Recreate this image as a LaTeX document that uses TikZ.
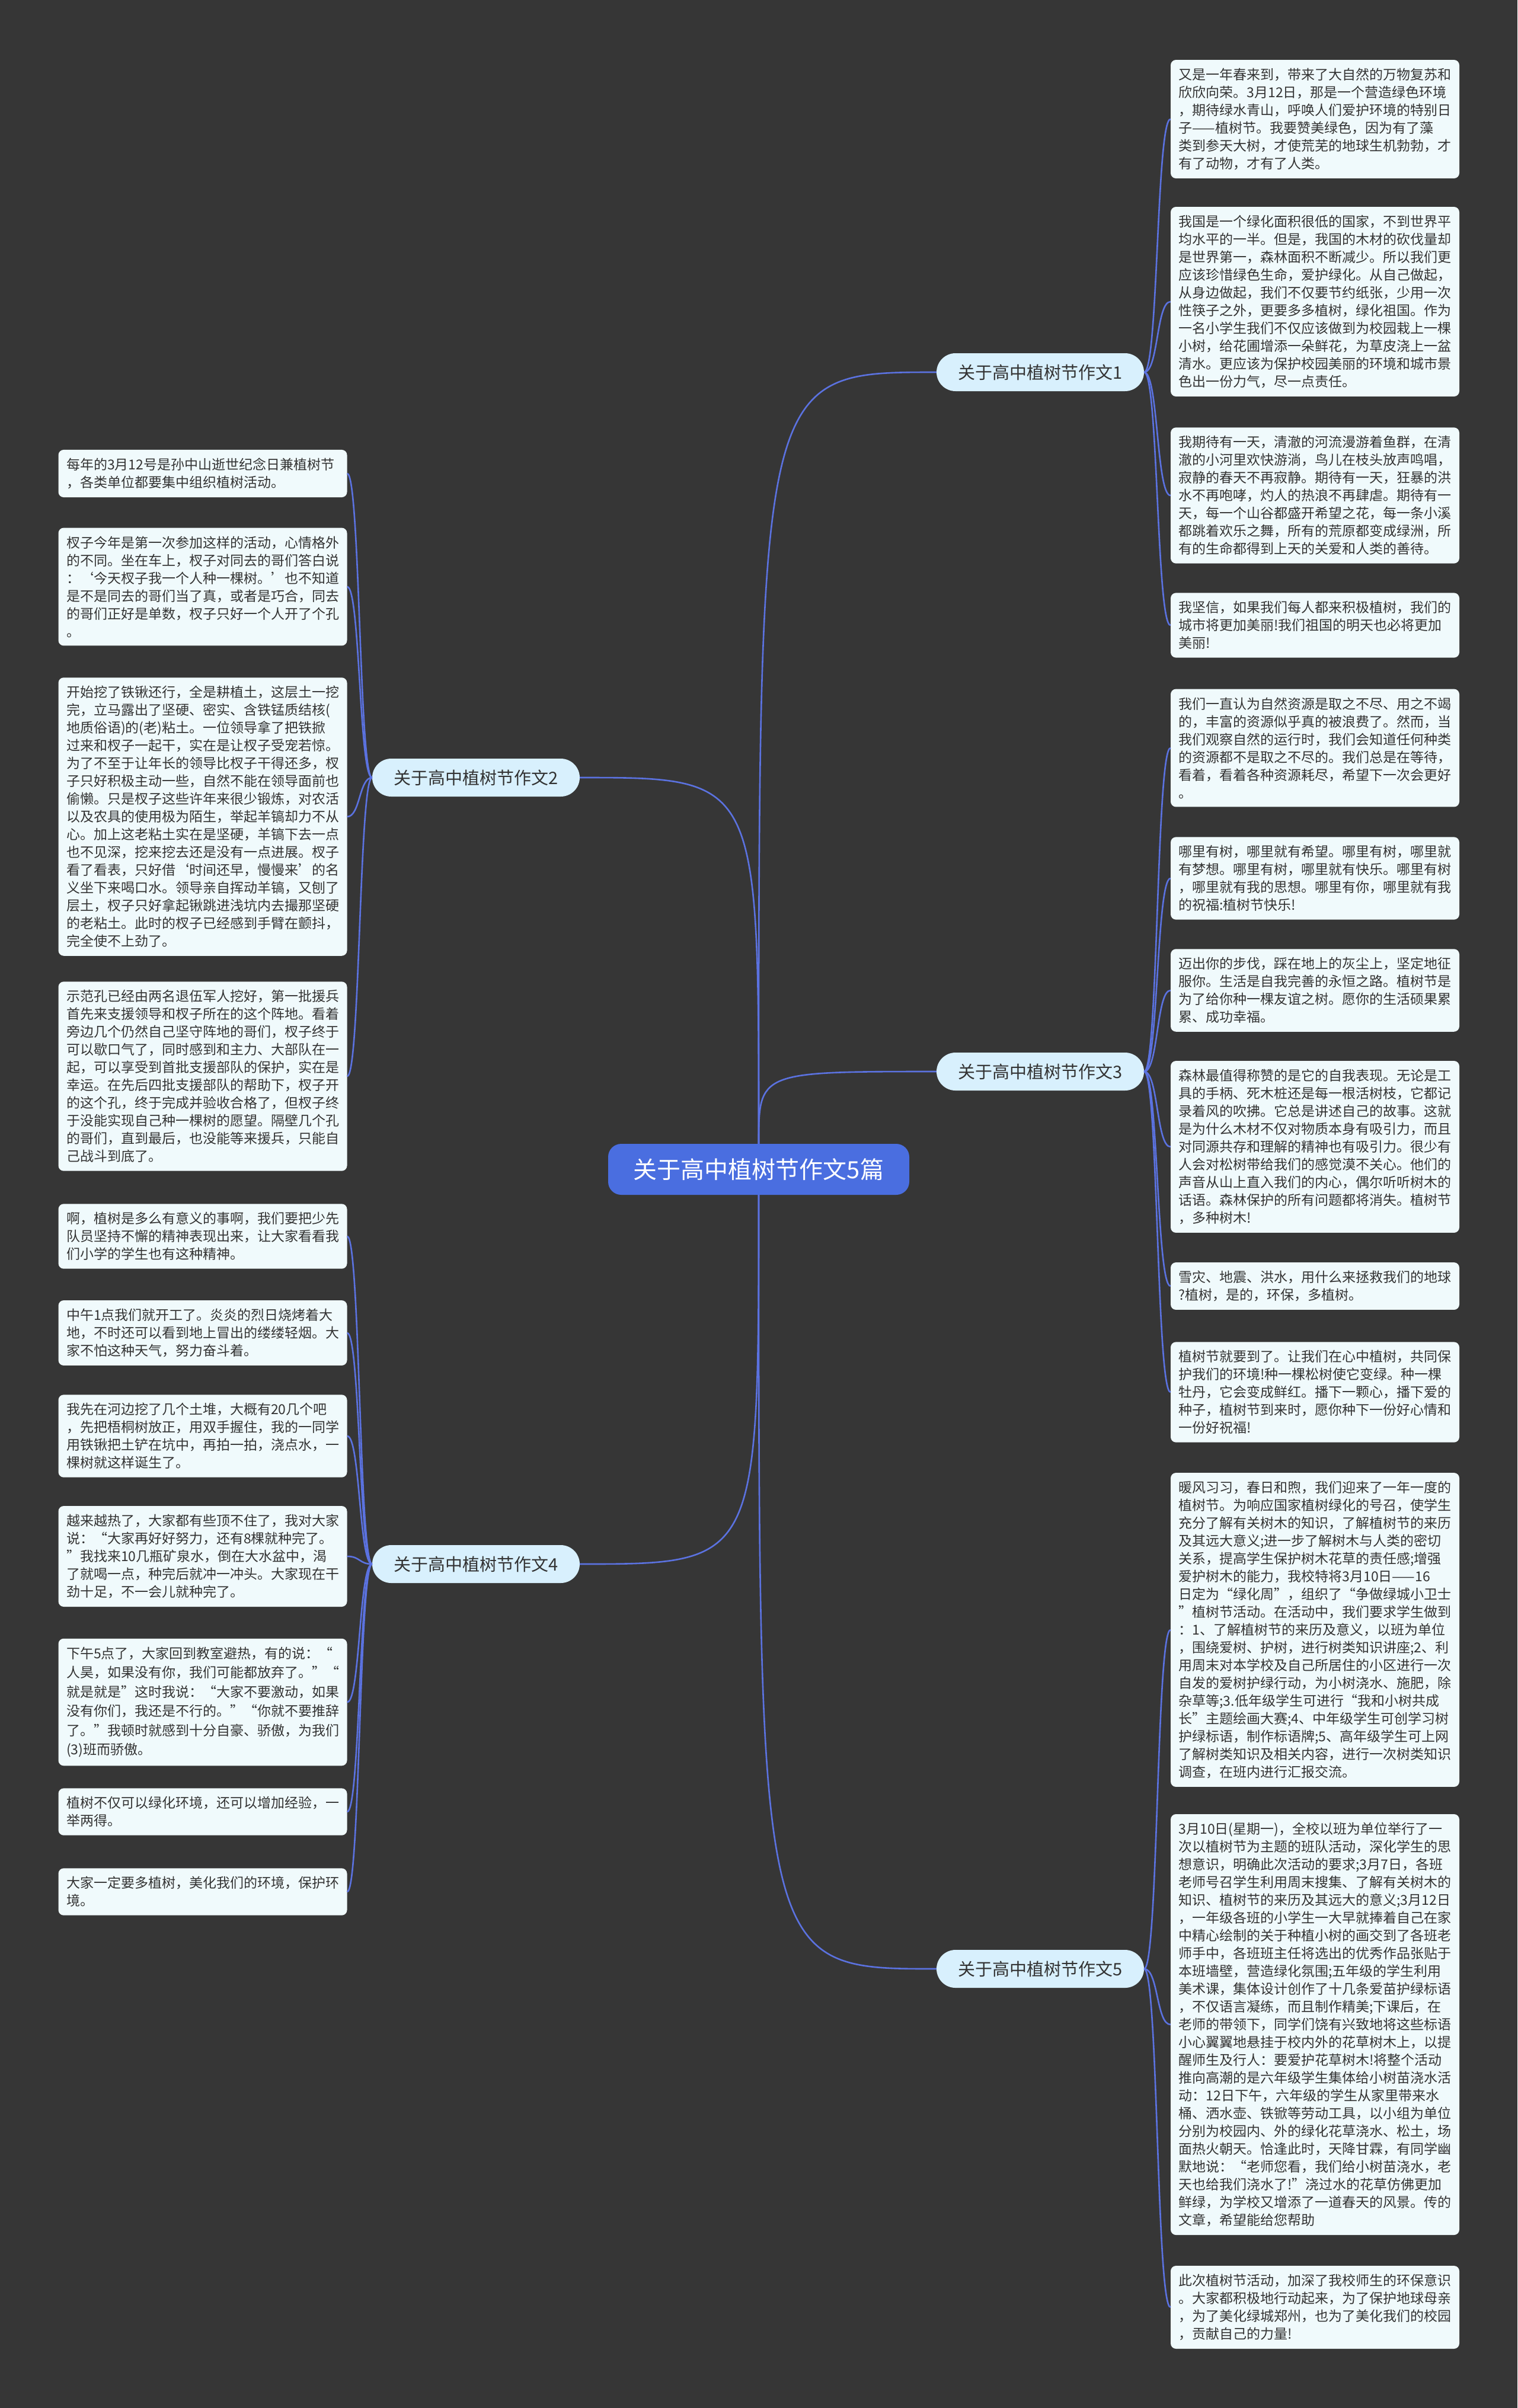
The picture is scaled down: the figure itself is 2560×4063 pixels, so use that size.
\documentclass[tikz,border=0pt]{standalone}
\usepackage{fontspec}
\setmainfont{Noto Sans CJK SC}
\definecolor{bg}{HTML}{363636}
\definecolor{leaffill}{HTML}{F0FAFC}
\definecolor{brfill}{HTML}{D8F0FD}
\definecolor{rootblue}{HTML}{4A6EE0}
\definecolor{link}{HTML}{5B72E0}
\definecolor{txt}{HTML}{333333}
\begin{document}
\begin{tikzpicture}[x=1pt,y=-1pt,
  leaf/.style={fill=leaffill, rounded corners=9pt, text width=460pt, inner xsep=13.5pt, inner ysep=14pt, align=left, text=txt, font=\fontsize{23}{30}\selectfont},
  wideleaf/.style={leaf, font=\fontsize{23}{32.5}\selectfont},
  branch/.style={fill=brfill, rounded corners=32pt, minimum width=350pt, minimum height=64pt, inner sep=0pt, text=txt, font=\fontsize{29}{34}\selectfont},
  root/.style={fill=rootblue, rounded corners=22pt, minimum width=508pt, minimum height=86pt, inner sep=0pt, text=white, font=\fontsize{40}{46}\selectfont},
  edge/.style={draw=link, line width=2.6pt}]
\fill[bg] (0,0) rectangle (2560,4063);
\useasboundingbox (0,0) rectangle (2560,4063);

% root and branches
\node[root] (c) at (1280,1973) {关于高中植树节作文5篇};
\node[branch] (b1) at (1755,628) {关于高中植树节作文1};
\node[branch] (b3) at (1755,1808) {关于高中植树节作文3};
\node[branch] (b5) at (1755,3322) {关于高中植树节作文5};
\node[branch] (b2) at (803,1312) {关于高中植树节作文2};
\node[branch] (b4) at (803,2639) {关于高中植树节作文4};

% right leaves: branch 1
\node[leaf] (r1a) at (2218.5,201) {又是一年春来到，带来了大自然的万物复苏和\\欣欣向荣。3月12日，那是一个营造绿色环境\\，期待绿水青山，呼唤人们爱护环境的特别日\\子——植树节。我要赞美绿色，因为有了藻\\类到参天大树，才使荒芜的地球生机勃勃，才\\有了动物，才有了人类。};
\node[leaf] (r1b) at (2218.5,509) {我国是一个绿化面积很低的国家，不到世界平\\均水平的一半。但是，我国的木材的砍伐量却\\是世界第一，森林面积不断减少。所以我们更\\应该珍惜绿色生命，爱护绿化。从自己做起，\\从身边做起，我们不仅要节约纸张，少用一次\\性筷子之外，更要多多植树，绿化祖国。作为\\一名小学生我们不仅应该做到为校园栽上一棵\\小树，给花圃增添一朵鲜花，为草皮浇上一盆\\清水。更应该为保护校园美丽的环境和城市景\\色出一份力气，尽一点责任。};
\node[leaf] (r1c) at (2218.5,836) {我期待有一天，清澈的河流漫游着鱼群，在清\\澈的小河里欢快游淌，鸟儿在枝头放声鸣唱，\\寂静的春天不再寂静。期待有一天，狂暴的洪\\水不再咆哮，灼人的热浪不再肆虐。期待有一\\天，每一个山谷都盛开希望之花，每一条小溪\\都跳着欢乐之舞，所有的荒原都变成绿洲，所\\有的生命都得到上天的关爱和人类的善待。};
\node[leaf] (r1d) at (2218.5,1055) {我坚信，如果我们每人都来积极植树，我们的\\城市将更加美丽!我们祖国的明天也必将更加\\美丽!};

% right leaves: branch 3
\node[leaf] (r3a) at (2218.5,1262) {我们一直认为自然资源是取之不尽、用之不竭\\的，丰富的资源似乎真的被浪费了。然而，当\\我们观察自然的运行时，我们会知道任何种类\\的资源都不是取之不尽的。我们总是在等待，\\看着，看着各种资源耗尽，希望下一次会更好\\。};
\node[leaf] (r3b) at (2218.5,1482) {哪里有树，哪里就有希望。哪里有树，哪里就\\有梦想。哪里有树，哪里就有快乐。哪里有树\\，哪里就有我的思想。哪里有你，哪里就有我\\的祝福:植树节快乐!};
\node[leaf] (r3c) at (2218.5,1671) {迈出你的步伐，踩在地上的灰尘上，坚定地征\\服你。生活是自我完善的永恒之路。植树节是\\为了给你种一棵友谊之树。愿你的生活硕果累\\累、成功幸福。};
\node[leaf] (r3d) at (2218.5,1935) {森林最值得称赞的是它的自我表现。无论是工\\具的手柄、死木桩还是每一根活树枝，它都记\\录着风的吹拂。它总是讲述自己的故事。这就\\是为什么木材不仅对物质本身有吸引力，而且\\对同源共存和理解的精神也有吸引力。很少有\\人会对松树带给我们的感觉漠不关心。他们的\\声音从山上直入我们的内心，偶尔听听树木的\\话语。森林保护的所有问题都将消失。植树节\\，多种树木!};
\node[leaf] (r3e) at (2218.5,2170) {雪灾、地震、洪水，用什么来拯救我们的地球\\?植树，是的，环保，多植树。};
\node[leaf] (r3f) at (2218.5,2349) {植树节就要到了。让我们在心中植树，共同保\\护我们的环境!种一棵松树使它变绿。种一棵\\牡丹，它会变成鲜红。播下一颗心，播下爱的\\种子，植树节到来时，愿你种下一份好心情和\\一份好祝福!};

% right leaves: branch 5
\node[leaf] (r5a) at (2218.5,2750) {暖风习习，春日和煦，我们迎来了一年一度的\\植树节。为响应国家植树绿化的号召，使学生\\充分了解有关树木的知识，了解植树节的来历\\及其远大意义;进一步了解树木与人类的密切\\关系，提高学生保护树木花草的责任感;增强\\爱护树木的能力，我校特将3月10日——16\\日定为“绿化周”，组织了“争做绿城小卫士\\”植树节活动。在活动中，我们要求学生做到\\：1、了解植树节的来历及意义，以班为单位\\，围绕爱树、护树，进行树类知识讲座;2、利\\用周末对本学校及自己所居住的小区进行一次\\自发的爱树护绿行动，为小树浇水、施肥，除\\杂草等;3.低年级学生可进行“我和小树共成\\长”主题绘画大赛;4、中年级学生可创学习树\\护绿标语，制作标语牌;5、高年级学生可上网\\了解树类知识及相关内容，进行一次树类知识\\调查，在班内进行汇报交流。};
\node[leaf] (r5b) at (2218.5,3416) {3月10日(星期一)，全校以班为单位举行了一\\次以植树节为主题的班队活动，深化学生的思\\想意识，明确此次活动的要求;3月7日，各班\\老师号召学生利用周末搜集、了解有关树木的\\知识、植树节的来历及其远大的意义;3月12日\\，一年级各班的小学生一大早就捧着自己在家\\中精心绘制的关于种植小树的画交到了各班老\\师手中，各班班主任将选出的优秀作品张贴于\\本班墙壁，营造绿化氛围;五年级的学生利用\\美术课，集体设计创作了十几条爱苗护绿标语\\，不仅语言凝练，而且制作精美;下课后，在\\老师的带领下，同学们饶有兴致地将这些标语\\小心翼翼地悬挂于校内外的花草树木上，以提\\醒师生及行人：要爱护花草树木!将整个活动\\推向高潮的是六年级学生集体给小树苗浇水活\\动：12日下午，六年级的学生从家里带来水\\桶、洒水壶、铁锨等劳动工具，以小组为单位\\分别为校园内、外的绿化花草浇水、松土，场\\面热火朝天。恰逢此时，天降甘霖，有同学幽\\默地说：“老师您看，我们给小树苗浇水，老\\天也给我们浇水了!”浇过水的花草仿佛更加\\鲜绿，为学校又增添了一道春天的风景。传的\\文章，希望能给您帮助};
\node[leaf] (r5c) at (2218.5,3893) {此次植树节活动，加深了我校师生的环保意识\\。大家都积极地行动起来，为了保护地球母亲\\，为了美化绿城郑州，也为了美化我们的校园\\，贡献自己的力量!};

% left leaves: branch 2
\node[leaf] (l2a) at (342,799) {每年的3月12号是孙中山逝世纪念日兼植树节\\，各类单位都要集中组织植树活动。};
\node[leaf] (l2b) at (342,990) {杈子今年是第一次参加这样的活动，心情格外\\的不同。坐在车上，杈子对同去的哥们答白说\\：‘今天杈子我一个人种一棵树。’也不知道\\是不是同去的哥们当了真，或者是巧合，同去\\的哥们正好是单数，杈子只好一个人开了个孔\\。};
\node[leaf] (l2c) at (342,1378) {开始挖了铁锹还行，全是耕植土，这层土一挖\\完，立马露出了坚硬、密实、含铁锰质结核(\\地质俗语)的(老)粘土。一位领导拿了把铁掀\\过来和杈子一起干，实在是让杈子受宠若惊。\\为了不至于让年长的领导比杈子干得还多，杈\\子只好积极主动一些，自然不能在领导面前也\\偷懒。只是杈子这些许年来很少锻炼，对农活\\以及农具的使用极为陌生，举起羊镐却力不从\\心。加上这老粘土实在是坚硬，羊镐下去一点\\也不见深，挖来挖去还是没有一点进展。杈子\\看了看表，只好借‘时间还早，慢慢来’的名\\义坐下来喝口水。领导亲自挥动羊镐，又刨了\\层土，杈子只好拿起锹跳进浅坑内去撮那坚硬\\的老粘土。此时的杈子已经感到手臂在颤抖，\\完全使不上劲了。};
\node[leaf] (l2d) at (342,1816) {示范孔已经由两名退伍军人挖好，第一批援兵\\首先来支援领导和杈子所在的这个阵地。看着\\旁边几个仍然自己坚守阵地的哥们，杈子终于\\可以歇口气了，同时感到和主力、大部队在一\\起，可以享受到首批支援部队的保护，实在是\\幸运。在先后四批支援部队的帮助下，杈子开\\的这个孔，终于完成并验收合格了，但杈子终\\于没能实现自己种一棵树的愿望。隔壁几个孔\\的哥们，直到最后，也没能等来援兵，只能自\\己战斗到底了。};

% left leaves: branch 4
\node[leaf] (l4a) at (342,2086) {啊，植树是多么有意义的事啊，我们要把少先\\队员坚持不懈的精神表现出来，让大家看看我\\们小学的学生也有这种精神。};
\node[leaf] (l4b) at (342,2249) {中午1点我们就开工了。炎炎的烈日烧烤着大\\地，不时还可以看到地上冒出的缕缕轻烟。大\\家不怕这种天气，努力奋斗着。};
\node[leaf] (l4c) at (342,2423) {我先在河边挖了几个土堆，大概有20几个吧\\，先把梧桐树放正，用双手握住，我的一同学\\用铁锹把土铲在坑中，再拍一拍，浇点水，一\\棵树就这样诞生了。};
\node[leaf] (l4d) at (342,2626) {越来越热了，大家都有些顶不住了，我对大家\\说：“大家再好好努力，还有8棵就种完了。\\”我找来10几瓶矿泉水，倒在大水盆中，渴\\了就喝一点，种完后就冲一冲头。大家现在干\\劲十足，不一会儿就种完了。};
\node[wideleaf] (l4e) at (342,2872) {下午5点了，大家回到教室避热，有的说：“\\人昊，如果没有你，我们可能都放弃了。”“\\就是就是”这时我说：“大家不要激动，如果\\没有你们，我还是不行的。”“你就不要推辞\\了。”我顿时就感到十分自豪、骄傲，为我们\\(3)班而骄傲。};
\node[leaf] (l4f) at (342,3057) {植树不仅可以绿化环境，还可以增加经验，一\\举两得。};
\node[leaf] (l4g) at (342,3192) {大家一定要多植树，美化我们的环境，保护环\\境。};

% root to branches
\draw[edge] (c.north) .. controls (c.north |- b1.west) .. (b1.west);
\draw[edge] (c.north) .. controls (c.north |- b3.west) .. (b3.west);
\draw[edge] (c.north) .. controls (c.north |- b2.east) .. (b2.east);
\draw[edge] (c.south) .. controls (c.south |- b5.west) .. (b5.west);
\draw[edge] (c.south) .. controls (c.south |- b4.east) .. (b4.east);

% branches to leaves
\foreach \l in {r1a,r1b,r1c,r1d}
  \draw[edge] (b1.east) .. controls +(24,0) and +(-24,0) .. (\l.west);
\foreach \l in {r3a,r3b,r3c,r3d,r3e,r3f}
  \draw[edge] (b3.east) .. controls +(24,0) and +(-24,0) .. (\l.west);
\foreach \l in {r5a,r5b,r5c}
  \draw[edge] (b5.east) .. controls +(24,0) and +(-24,0) .. (\l.west);
\foreach \l in {l2a,l2b,l2c,l2d}
  \draw[edge] (b2.west) .. controls +(-22,0) and +(22,0) .. (\l.east);
\foreach \l in {l4a,l4b,l4c,l4d,l4e,l4f,l4g}
  \draw[edge] (b4.west) .. controls +(-22,0) and +(22,0) .. (\l.east);
\end{tikzpicture}
\end{document}
